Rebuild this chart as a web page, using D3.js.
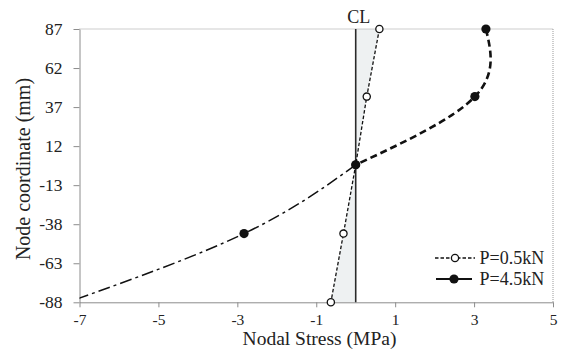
<!DOCTYPE html>
<html>
<head>
<meta charset="utf-8">
<script src="https://cdn.jsdelivr.net/npm/d3@7"></script>
<style>
  body { margin: 0; background: #fff; }
  svg text { font-family: "Liberation Serif", "Times New Roman", Times, "DejaVu Serif", serif; fill: #222; }
</style>
</head>
<body>
<svg id="chart" width="561" height="350"></svg>
<script>
// node positions across the section (mm)
const nodeY = [87, 43.7, 0, -44, -88];
// nodal stress, P=0.5kN
const stressLow = [0.60, 0.28, 0, -0.31, -0.63];
// nodal stress, P=4.5kN (last node lies past the -7 axis limit)
const stressHigh = [3.30, 3.02, 0, -2.83, -7.3];
const xTicks = [-7, -5, -3, -1, 1, 3, 5];
const yTicks = [87, 62, 37, 12, -13, -38, -63, -88];
const seriesNames = ["P=0.5kN", "P=4.5kN"];

const serif = '"Liberation Serif", "Times New Roman", Times, "DejaVu Serif", serif';
const svg = d3.select("#chart");
const pLeft = 79.5, pRight = 553, pTop = 29, pBottom = 302.3;

const x = d3.scaleLinear().domain([-7, 5]).range([pLeft, pRight]);
const y = d3.scaleLinear().domain([-88, 87]).range([pBottom, pTop]);

const low = nodeY.map((v, i) => ({ x: stressLow[i], y: v }));
const high = nodeY.map((v, i) => ({ x: stressHigh[i], y: v }));
// 4.5kN is drawn in two parts: tension side (top) and compression side (bottom)
const highTop = high.slice(0, 3);
const highBottom = high.slice(2);

svg.append("defs").append("clipPath").attr("id", "plotClip").append("rect")
  .attr("x", pLeft).attr("y", pTop - 6).attr("width", pRight - pLeft).attr("height", pBottom - pTop + 6);

// shaded band between the centre line and the P=0.5kN profile
svg.append("path")
  .datum(low)
  .attr("fill", "#eef1f2")
  .attr("d", d3.area().x0(x(0)).x1(d => x(d.x)).y(d => y(d.y)));

// dotted top and right borders
svg.append("line").attr("x1", pLeft).attr("x2", pRight).attr("y1", pTop).attr("y2", pTop)
  .attr("stroke", "#9a9a9a").attr("stroke-dasharray", "1,1");
svg.append("line").attr("x1", pRight).attr("x2", pRight).attr("y1", pTop).attr("y2", pBottom)
  .attr("stroke", "#9a9a9a").attr("stroke-dasharray", "1,1");

// axes
const xAxis = svg.append("g")
  .attr("transform", `translate(0,${pBottom})`)
  .call(d3.axisBottom(x).tickValues(xTicks).tickFormat(d => String(d))
    .tickSize(5).tickSizeOuter(0).tickPadding(7));
const yAxis = svg.append("g")
  .attr("transform", `translate(${pLeft},0)`)
  .call(d3.axisLeft(y).tickValues(yTicks).tickFormat(d => String(d))
    .tickSize(6).tickSizeOuter(0).tickPadding(11));
[xAxis, yAxis].forEach(g => {
  g.attr("font-family", serif);
  g.select(".domain").attr("stroke", "#8c8c8c");
  g.selectAll(".tick line").attr("stroke", "#8c8c8c");
  g.selectAll(".tick text").attr("fill", "#222");
});
xAxis.selectAll(".tick text").style("font-size", "15.5px");
yAxis.selectAll(".tick text").style("font-size", "17.5px");

// centre line
svg.append("line")
  .attr("x1", x(0)).attr("x2", x(0)).attr("y1", pTop).attr("y2", pBottom)
  .attr("stroke", "#2a2a2a").attr("stroke-width", 1.6);
svg.append("text").attr("x", x(0) + 3).attr("y", 23)
  .attr("text-anchor", "middle").style("font-size", "18px").text("CL");

// P=0.5kN profile
svg.append("path")
  .datum(low)
  .attr("fill", "none").attr("stroke", "#111").attr("stroke-width", 1.3)
  .attr("stroke-dasharray", "3.5,2")
  .attr("d", d3.line().x(d => x(d.x)).y(d => y(d.y)));

// P=4.5kN profile, smoothed
const smooth = d3.line().x(d => x(d.x)).y(d => y(d.y)).curve(d3.curveNatural);
svg.append("path")
  .datum(highTop)
  .attr("clip-path", "url(#plotClip)")
  .attr("fill", "none").attr("stroke", "#111").attr("stroke-width", 2.6)
  .attr("stroke-dasharray", "7,4")
  .attr("d", smooth);
svg.append("path")
  .datum(highBottom)
  .attr("clip-path", "url(#plotClip)")
  .attr("fill", "none").attr("stroke", "#111").attr("stroke-width", 1.5)
  .attr("stroke-dasharray", "12,4,3,4")
  .attr("d", smooth);

// markers
svg.selectAll(".m-low").data(low).join("circle")
  .attr("class", "m-low")
  .attr("cx", d => x(d.x)).attr("cy", d => y(d.y)).attr("r", 3.6)
  .attr("fill", "#fff").attr("stroke", "#111").attr("stroke-width", 1.3);
svg.selectAll(".m-high").data(high.filter(d => d.x >= -7)).join("circle")
  .attr("class", "m-high")
  .attr("cx", d => x(d.x)).attr("cy", d => y(d.y)).attr("r", 4.6)
  .attr("fill", "#111");

// axis titles
svg.append("text").attr("x", 319.5).attr("y", 345)
  .attr("text-anchor", "middle").style("font-size", "19.5px").text("Nodal Stress (MPa)");
svg.append("text").attr("transform", "translate(30,169) rotate(-90)")
  .attr("text-anchor", "middle").style("font-size", "20px").text("Node coordinate (mm)");

// legend
const legend = svg.append("g");
const rows = [258, 279];
legend.append("line").attr("x1", 435).attr("x2", 475).attr("y1", rows[0]).attr("y2", rows[0])
  .attr("stroke", "#111").attr("stroke-width", 1.3).attr("stroke-dasharray", "3.5,2");
legend.append("circle").attr("cx", 455).attr("cy", rows[0]).attr("r", 3.6)
  .attr("fill", "#fff").attr("stroke", "#111").attr("stroke-width", 1.3);
legend.append("line").attr("x1", 436).attr("x2", 472).attr("y1", rows[1]).attr("y2", rows[1])
  .attr("stroke", "#111").attr("stroke-width", 2);
legend.append("circle").attr("cx", 454).attr("cy", rows[1]).attr("r", 4.6).attr("fill", "#111");
legend.selectAll(".lt").data(seriesNames).join("text")
  .attr("class", "lt")
  .attr("x", 479.5).attr("y", (d, i) => rows[i]).attr("dy", "0.35em")
  .style("font-size", "18px").text(d => d);
</script>
</body>
</html>
